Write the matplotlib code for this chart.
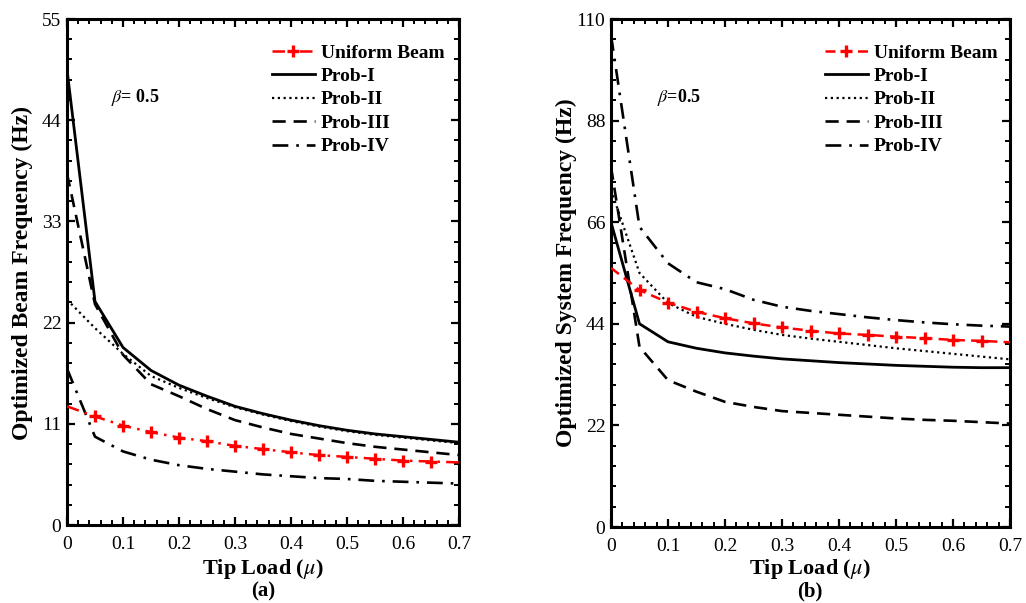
import matplotlib
matplotlib.use("Agg")
import matplotlib.pyplot as plt
from matplotlib.ticker import MultipleLocator, FixedLocator

plt.rcParams['font.family'] = ['Liberation Serif', 'DejaVu Serif']
plt.rcParams['mathtext.fontset'] = 'stix'

# ---------------- data ----------------
tip_load = [0, 0.05, 0.1, 0.15, 0.2, 0.25, 0.3, 0.35, 0.4, 0.45, 0.5, 0.55, 0.6, 0.65, 0.7]

# (a) Optimized beam frequency (Hz)
beam_uniform = [12.9, 11.8, 10.8, 10.1, 9.5, 9.1, 8.6, 8.25, 7.9, 7.6, 7.4, 7.2, 7.0, 6.9, 6.8]
beam_prob1 = [49.5, 24.3, 19.3, 16.8, 15.2, 14.0, 12.9, 12.1, 11.4, 10.8, 10.3, 9.9, 9.6, 9.3, 9.0]
beam_prob2 = [24.5, 21.4, 18.6, 16.2, 14.9, 13.8, 12.8, 12.0, 11.3, 10.7, 10.2, 9.8, 9.5, 9.2, 8.9]
beam_prob3 = [38.2, 24.0, 18.5, 15.3, 14.0, 12.6, 11.4, 10.6, 9.9, 9.4, 8.9, 8.5, 8.2, 7.9, 7.6]
beam_prob4 = [17.0, 9.6, 8.0, 7.1, 6.5, 6.1, 5.8, 5.5, 5.3, 5.1, 5.0, 4.8, 4.7, 4.6, 4.5]

# (b) Optimized system frequency (Hz)
sys_uniform = [56.1, 51.3, 48.6, 46.6, 45.2, 44.1, 43.2, 42.5, 41.9, 41.6, 41.2, 40.9, 40.5, 40.3, 40.0]
sys_prob1 = [66.0, 44.0, 40.1, 38.7, 37.7, 37.0, 36.4, 36.0, 35.6, 35.3, 35.0, 34.8, 34.6, 34.5, 34.5]
sys_prob2 = [73.0, 55.0, 48.5, 45.5, 44.0, 42.7, 41.6, 40.8, 40.1, 39.4, 38.7, 38.1, 37.5, 36.9, 36.3]
sys_prob3 = [78.0, 39.0, 31.8, 29.3, 27.1, 26.0, 25.1, 24.7, 24.3, 23.9, 23.5, 23.2, 23.0, 22.7, 22.4]
sys_prob4 = [106.5, 65.0, 57.1, 53.0, 51.5, 49.2, 47.7, 46.8, 46.1, 45.4, 44.8, 44.3, 43.9, 43.6, 43.4]

labels = ['Uniform Beam', 'Prob-I', 'Prob-II', 'Prob-III', 'Prob-IV']
x_ticks = [0, 0.1, 0.2, 0.3, 0.4, 0.5, 0.6, 0.7]
x_tick_labels = ['0', '0.1', '0.2', '0.3', '0.4', '0.5', '0.6', '0.7']
yticks_a = [0, 11, 22, 33, 44, 55]
yticks_b = [0, 22, 44, 66, 88, 110]

fig = plt.figure(figsize=(10.26, 6.03), dpi=100)
W, H = 1026, 603

def make_axes(l, r, t, b):
    return fig.add_axes([l / W, 1 - b / H, (r - l) / W, (b - t) / H])

ax1 = make_axes(67, 459, 19, 525)
ax2 = make_axes(611, 1010, 19, 527)

red = '#ff0000'

def draw(ax, uni, p1, p2, p3, p4, uni_style):
    ax.plot(tip_load, uni, color=red, lw=1.8, dashes=uni_style, marker='+', ms=8, mew=2.4,
            markevery=list(range(1, 14)), label=labels[0], zorder=5)
    ax.plot(tip_load, p1, color='black', lw=2.0, ls='-', label=labels[1])
    ax.plot(tip_load, p2, color='black', lw=1.6, dashes=(1, 1.6), label=labels[2])
    ax.plot(tip_load, p3, color='black', lw=1.9, dashes=(5, 3), label=labels[3])
    ax.plot(tip_load, p4, color='black', lw=1.9, dashes=(6, 3, 1, 3), label=labels[4])

draw(ax1, beam_uniform, beam_prob1, beam_prob2, beam_prob3, beam_prob4, (5, 2.5, 1, 2.5))
draw(ax2, sys_uniform, sys_prob1, sys_prob2, sys_prob3, sys_prob4, (4, 2.5))

def style(ax, yticks, ymax, ylabel, panel, xc, ylab_x):
    ax.set_xlim(0, 0.7)
    ax.set_ylim(0, ymax)
    ax.xaxis.set_major_locator(FixedLocator(x_ticks))
    ax.set_xticklabels(x_tick_labels)
    ax.xaxis.set_minor_locator(MultipleLocator(0.02))
    ax.yaxis.set_major_locator(FixedLocator(yticks))
    ax.yaxis.set_minor_locator(MultipleLocator(yticks[1] / 5))
    ax.tick_params(which='both', direction='in', top=True, right=True)
    ax.tick_params(which='major', length=6, width=1.6, labelsize=14)
    ax.tick_params(which='minor', length=3.5, width=1.4)
    ax.tick_params(axis='x', which='major', pad=8)
    ax.tick_params(axis='y', which='major', pad=4)
    for s in ax.spines.values():
        s.set_linewidth(2.2)
    fig.text(ylab_x / W, 0.5 * ((1 - 19 / H) + (1 - 526 / H)), ylabel, rotation=90,
             ha='center', va='center', fontsize=17, fontweight='bold')
    fig.text(xc / W, 1 - 569 / H, r'Tip Load ($\mu$)', ha='center', va='center',
             fontsize=16, fontweight='bold')
    fig.text(xc / W, 1 - 591 / H, panel, ha='center', va='center',
             fontsize=15, fontweight='bold')

style(ax1, yticks_a, 55, 'Optimized Beam Frequency (Hz)', '(a)', 263, 22)
style(ax2, yticks_b, 110, 'Optimized System Frequency (Hz)', '(b)', 810, 566)

ax1.text(0.079, 46.5, r'$\beta$= 0.5', fontsize=13, fontweight='bold', va='center')
ax2.text(0.081, 92.9, r'$\beta$=0.5', fontsize=13, fontweight='bold', va='center')

for ax, xl in ((ax1, 272), (ax2, 825)):
    ax.legend(loc='upper left', bbox_to_anchor=(xl / W, 1 - 44 / H), bbox_transform=fig.transFigure,
              frameon=False, borderpad=0, borderaxespad=0, handlelength=2.2, handletextpad=0.3,
              labelspacing=0.3, prop={'family': 'Liberation Serif', 'weight': 'bold', 'size': 14})

fig.savefig('out.png', dpi=100)
